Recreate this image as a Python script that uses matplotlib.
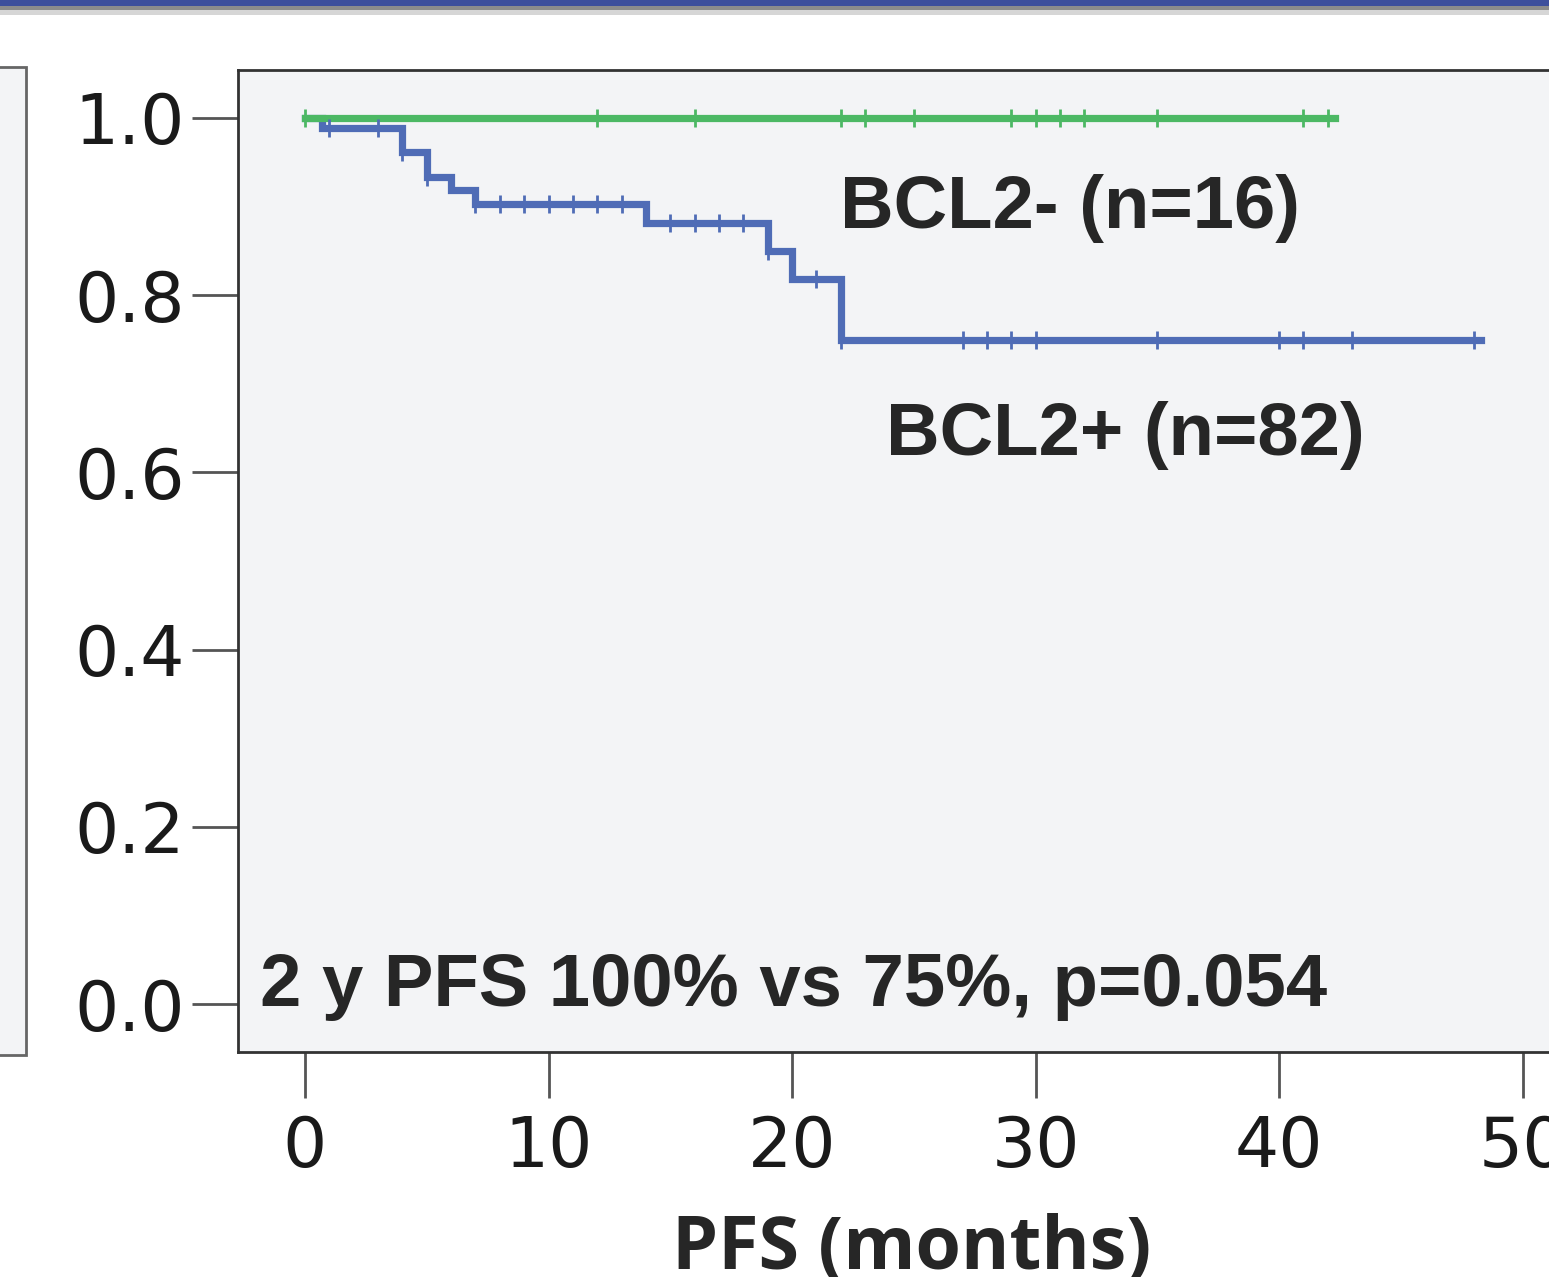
import numpy as np
import matplotlib.pyplot as plt
from matplotlib.patches import Rectangle

# Kaplan-Meier step data
bcl2_pos_times = [0, 0.7, 4, 5, 6, 7, 14, 19, 20, 22]
bcl2_pos_surv = [1.0, 0.988, 0.962, 0.933, 0.919, 0.903, 0.881, 0.850, 0.818, 0.749]
bcl2_pos_end = 48.3
bcl2_pos_censor = [1, 3, 4, 5, 7, 8, 9, 10, 11, 12, 13, 15, 16, 17, 18, 19, 21, 22,
                   27, 28, 29, 30, 35, 40, 41, 43, 48]

bcl2_neg_times = [0]
bcl2_neg_surv = [1.0]
bcl2_neg_end = 42.3
bcl2_neg_censor = [0, 12, 16, 22, 23, 25, 29, 30, 31, 32, 35, 41, 42]

x_ticks = [0, 10, 20, 30, 40, 50]
y_ticks = [0.0, 0.2, 0.4, 0.6, 0.8, 1.0]
label_neg = 'BCL2- (n=16)'
label_pos = 'BCL2+ (n=82)'
note = '2 y PFS 100% vs 75%, p=0.054'

green = '#4cb864'
blue = '#4f6cb6'
bg = '#f3f4f6'

W, H = 1549, 1277
fig = plt.figure(figsize=(W / 100, H / 100), dpi=100)
fig.patch.set_facecolor('white')

# axes placed in pixel terms, right side runs past the crop
left, right, top, bottom = 238, 1586, 70, 1052
ax = fig.add_axes([left / W, 1 - bottom / H, (right - left) / W, (bottom - top) / H])
ax.set_facecolor(bg)


def km_curve(times, surv, end, censor, color):
    t = list(times) + [end]
    s = list(surv) + [surv[-1]]
    ax.step(t, s, where='post', color=color, lw=5.2, solid_joinstyle='miter', zorder=3)
    idx = np.searchsorted(times, censor, side='right') - 1
    cs = np.array(surv)[idx]
    ax.plot(censor, cs, '|', color=color, ms=13, mew=2, zorder=4)


km_curve(bcl2_pos_times, bcl2_pos_surv, bcl2_pos_end, bcl2_pos_censor, blue)
km_curve(bcl2_neg_times, bcl2_neg_surv, bcl2_neg_end, bcl2_neg_censor, green)

ax.set_xlim(-2.75, 52.6)
ax.set_ylim(-0.054, 1.054)
ax.set_xticks(x_ticks)
ax.set_yticks(y_ticks)
ax.set_yticklabels([f'{v:.1f}' for v in y_ticks])
ax.tick_params(axis='both', direction='out', length=33, width=2, color='#555555',
               labelsize=50, labelcolor='#1a1a1a')
ax.tick_params(axis='x', pad=12)
ax.tick_params(axis='y', pad=5)
for sp in ax.spines.values():
    sp.set_color('#333333')
    sp.set_linewidth(2)

txt_kw = dict(fontsize=53.5, fontweight='bold', color='#262626',
              family='Liberation Sans', va='baseline', ha='left')
ax.text(21.97, 0.876, label_neg, **txt_kw)
ax.text(23.86, 0.620, label_pos, **txt_kw)
ax.text(-1.85, -0.002, note, **txt_kw)

ax.set_xlabel('PFS (months)', fontsize=53, fontweight='bold', family='Open Sans',
              color='#262626', labelpad=23)

# remnants of the neighbouring panel and page header
fig.patches.append(Rectangle((-0.01, 1 - 1055 / H), 0.01 + 26 / W, (1055 - 67) / H,
                             transform=fig.transFigure, facecolor=bg,
                             edgecolor='#666666', lw=2, zorder=0))
fig.patches.append(Rectangle((0, 1 - 6 / H), 1, 6 / H, transform=fig.transFigure,
                             facecolor='#3d4f9c', edgecolor='none'))
fig.patches.append(Rectangle((0, 1 - 10 / H), 1, 4 / H, transform=fig.transFigure,
                             facecolor='#8c8c8c', edgecolor='none'))
fig.patches.append(Rectangle((0, 1 - 15 / H), 1, 5 / H, transform=fig.transFigure,
                             facecolor='#d6d6d6', edgecolor='none'))

plt.savefig('out.png', dpi=100)
